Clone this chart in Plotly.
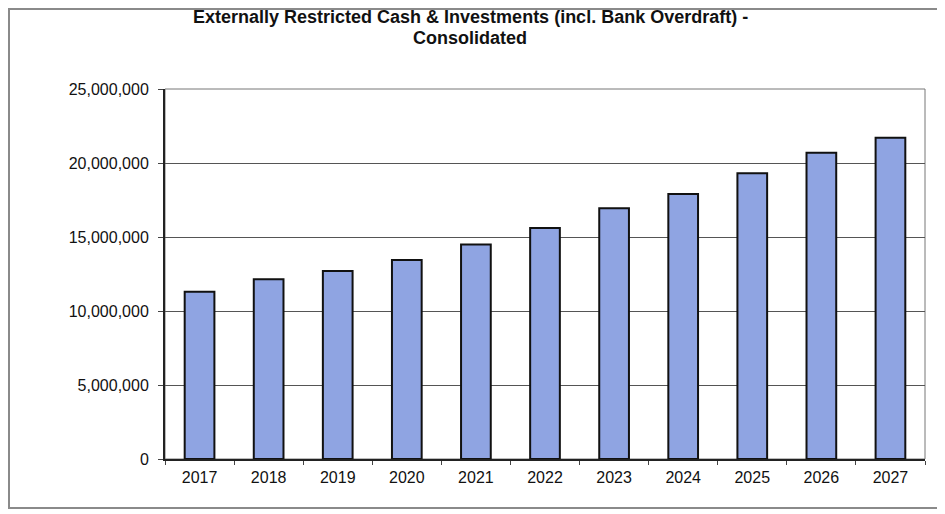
import plotly.graph_objects as go

years = ["2017", "2018", "2019", "2020", "2021", "2022", "2023", "2024", "2025", "2026", "2027"]
values = [11300000, 12150000, 12700000, 13450000, 14500000, 15600000, 16950000, 17900000, 19300000, 20700000, 21700000]
y_ticks = [0, 5000000, 10000000, 15000000, 20000000, 25000000]
title_line1 = "Externally Restricted Cash & Investments (incl. Bank Overdraft) -"
title_line2 = "Consolidated"

# page has an 8px body margin; size the figure so the plot lands where the reference has it
OFF = 8
W, H = 945 - OFF, 514 - OFF
L, R, T, B = 165 - OFF, 20, 89 - OFF, 55
pw, ph = W - L - R, H - T - B

def px_x(px):
    return (px - OFF - L) / pw

def px_y(py):
    return (H - B - (py - OFF)) / ph

font_family = "Liberation Sans, Arial, sans-serif"

fig = go.Figure()
fig.add_trace(go.Bar(
    x=years, y=values,
    marker=dict(color="#8FA4E2", line=dict(color="#111111", width=2)),
    hoverinfo="x+y",
))

fig.update_layout(
    width=W, height=H,
    margin=dict(l=L, r=R, t=T, b=B, autoexpand=False),
    paper_bgcolor="white", plot_bgcolor="white",
    bargap=0.57,
    showlegend=False,
    font=dict(family=font_family, color="#111111", size=16),
)

for txt, ypx in [(title_line1, 17), (title_line2, 38)]:
    fig.add_annotation(
        text="<b>" + txt + "</b>",
        xref="paper", yref="paper", x=px_x(470), y=px_y(ypx),
        xanchor="center", yanchor="middle", showarrow=False,
        font=dict(family=font_family, size=18, color="#111111"),
    )

fig.update_xaxes(
    showline=True, linecolor="#222222", linewidth=2,
    ticks="outside", tickson="boundaries", ticklen=4, tickcolor="#444444",
    showgrid=False,
    tickfont=dict(size=16, color="#111111"),
    ticklabelstandoff=3,
)
fig.update_yaxes(
    range=[0, 25000000], tickvals=y_ticks, tickformat=",",
    showline=True, linecolor="#222222", linewidth=2,
    ticks="outside", ticklen=5, tickcolor="#444444",
    showgrid=True, gridcolor="#555555", gridwidth=1,
    zeroline=False,
    tickfont=dict(size=16, color="#111111"),
    ticklabelstandoff=6,
)

# plot area border (top/right thin gray)
fig.add_shape(type="rect", xref="paper", yref="paper", x0=0, y0=0, x1=1, y1=1,
              line=dict(color="#777777", width=1), layer="below")

# outer chart border
fig.add_shape(type="rect", xref="paper", yref="paper",
              x0=px_x(OFF + 1), x1=px_x(939),
              y0=px_y(508), y1=px_y(OFF + 1),
              line=dict(color="#8a8a8a", width=2))

fig.write_html("out.html")
